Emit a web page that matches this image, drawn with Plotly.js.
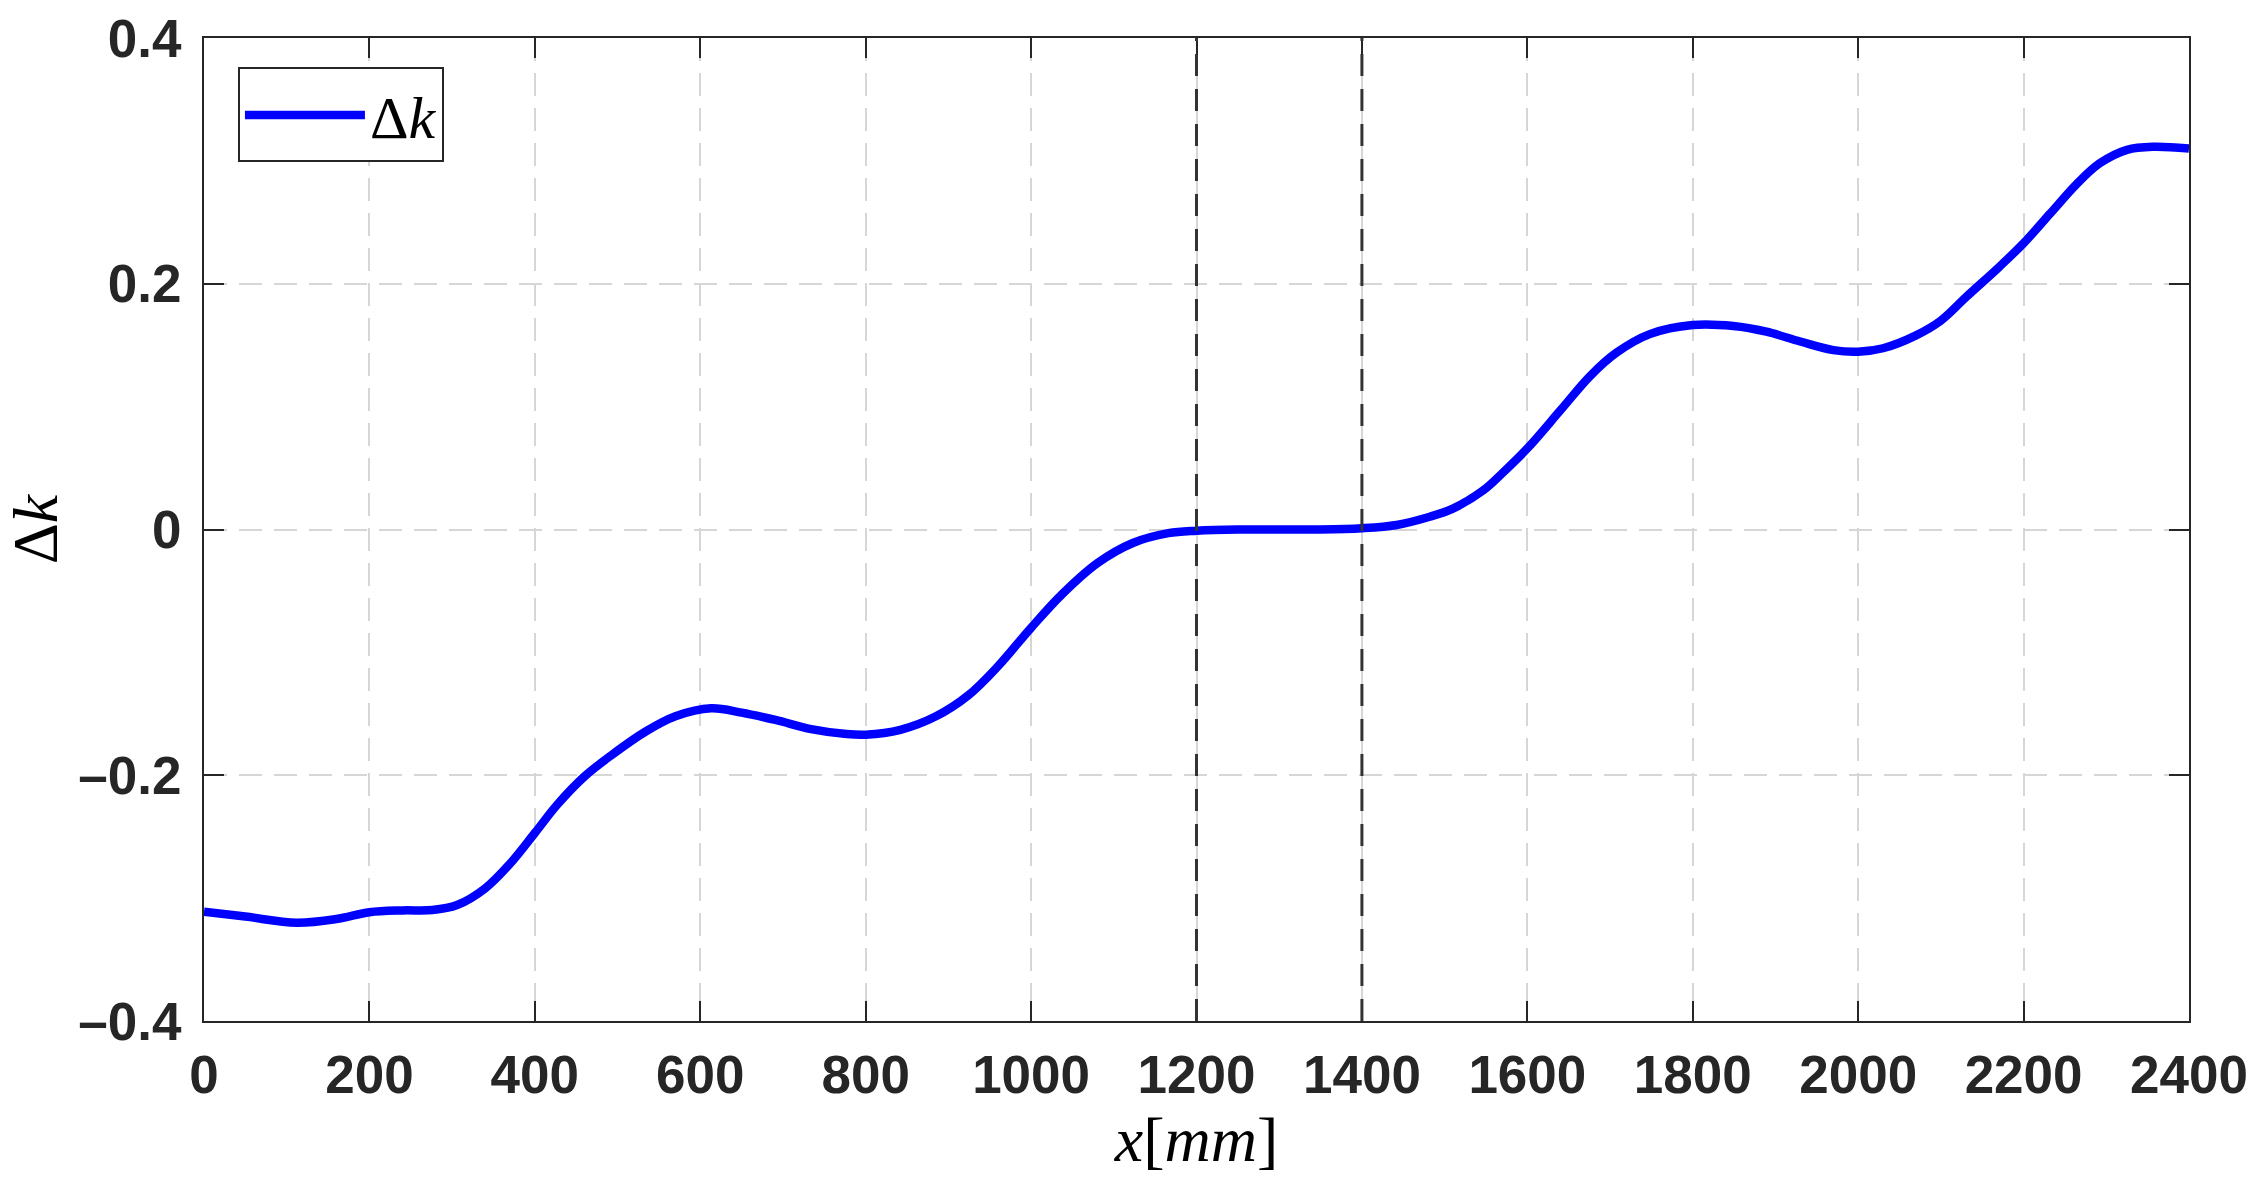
<!DOCTYPE html>
<html>
<head>
<meta charset="utf-8">
<script src="https://cdn.plot.ly/plotly-3.0.1.min.js"></script>
<style>
  html, body { margin: 0; padding: 0; background: #fff; }
  #chart { width: 2265px; height: 1196px; }
</style>
</head>
<body>
<div id="chart"></div>
<script>
// position along the beam [mm] and the Δk
const xMm = [0, 50, 112, 160, 200, 240, 276, 306, 340, 370, 400, 427, 460, 492, 535, 570, 613, 650, 691, 734,
  777, 800, 842, 885, 924, 959, 1000, 1037, 1080, 1123, 1166, 1200, 1250, 1300, 1350, 1400, 1442, 1482, 1510,
  1547, 1570, 1600, 1640, 1676, 1708, 1748, 1800, 1849, 1889, 1930, 1970, 2000, 2030, 2070, 2100, 2131, 2171,
  2200, 2232, 2264, 2292, 2325, 2357, 2400];
const deltaK = [-0.311, -0.315, -0.320, -0.317, -0.3115, -0.3100, -0.3097, -0.3056, -0.292, -0.272, -0.247,
  -0.224, -0.201, -0.184, -0.164, -0.152, -0.1455, -0.149, -0.155, -0.1625, -0.1665, -0.167, -0.163, -0.152,
  -0.135, -0.112, -0.080, -0.053, -0.0275, -0.011, -0.003, -0.001, 0.000, 0.000, 0.000, 0.001, 0.0037, 0.0104,
  0.017, 0.032, 0.046, 0.066, 0.097, 0.125, 0.144, 0.159, 0.1664, 0.1656, 0.161, 0.153, 0.146, 0.1447, 0.1475,
  0.158, 0.170, 0.1895, 0.214, 0.233, 0.257, 0.281, 0.298, 0.309, 0.3115, 0.310];

// dashed section markers
const sectionX = [1200, 1400];

const xTicks = [0, 200, 400, 600, 800, 1000, 1200, 1400, 1600, 1800, 2000, 2200, 2400];
const yTicks = [-0.4, -0.2, 0, 0.2, 0.4];
const yTickText = ['\u20130.4', '\u20130.2', '0', '0.2', '0.4'];

const ink = '#262626';
const tickFont = { family: 'Liberation Sans, Arial, sans-serif', size: 53, color: ink, weight: 'bold' };
const mathFont = { family: 'Liberation Serif, Times New Roman, serif', size: 64, color: '#000' };

const axisBase = {
  showline: true, linecolor: ink, linewidth: 2, mirror: 'ticks',
  ticks: 'inside', ticklen: 20, tickwidth: 2, tickcolor: ink,
  showgrid: true, gridcolor: '#d6d6d6', gridwidth: 2, griddash: '23px,12px',
  zeroline: false, tickfont: tickFont, automargin: false
};

const shapes = sectionX.map(v => ({
  type: 'line', xref: 'x', yref: 'paper', x0: v, x1: v, y0: 0, y1: 1,
  line: { color: '#333', width: 3, dash: '22px,13px' }
}));

const trace = {
  type: 'scatter', mode: 'lines', x: xMm, y: deltaK, name: '\u0394<i>k</i>',
  line: { color: '#0000ff', width: 8.5, shape: 'spline', smoothing: 1.0 }
};

const layout = {
  width: 2265, height: 1196,
  margin: { l: 204, r: 76, t: 38, b: 175 },
  paper_bgcolor: '#fff', plot_bgcolor: '#fff',
  showlegend: true,
  legend: {
    x: 0.0171, y: 0.97, xanchor: 'left', yanchor: 'top',
    bgcolor: '#fff', bordercolor: ink, borderwidth: 2,
    font: { family: mathFont.family, size: 60, color: '#000' },
    itemwidth: 120
  },
  xaxis: Object.assign({}, axisBase, {
    range: [0, 2400], tickvals: xTicks, ticklabelstandoff: 6,
    title: { text: '<i>x</i>[<i>mm</i>]', font: mathFont, standoff: 8 }
  }),
  yaxis: Object.assign({}, axisBase, {
    range: [-0.4, 0.4], tickvals: yTicks, ticktext: yTickText, ticklabelstandoff: 10,
    title: { text: '\u0394<i>k</i>', font: mathFont, standoff: 16 }
  }),
  shapes
};

Plotly.newPlot('chart', [trace], layout, { displayModeBar: false, staticPlot: true });
</script>
</body>
</html>
